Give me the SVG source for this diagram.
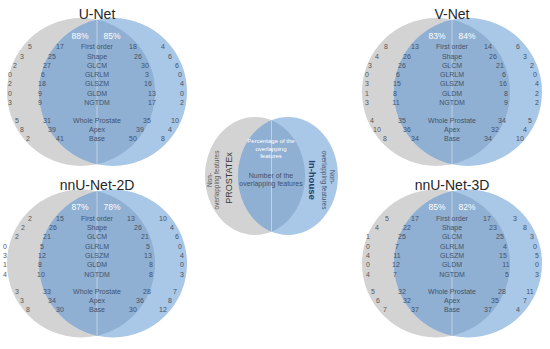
<svg xmlns="http://www.w3.org/2000/svg" xmlns:xlink="http://www.w3.org/1999/xlink" width="550" height="349" viewBox="0 0 550 349">
<style>
text{font-family:"Liberation Sans",Arial,sans-serif;}
.title{font-size:14px;fill:#262626;text-anchor:middle;}
.pct{font-size:8.5px;fill:#ffffff;text-anchor:middle;}
.f{font-size:7px;fill:#44546a;text-anchor:middle;}
.n{font-size:7px;fill:#44546a;text-anchor:middle;}
.nl{font-size:7px;fill:#595959;text-anchor:middle;}
.gray{fill:#d3d3d3;}
.blue{fill:#a9c7e6;}
.lens{fill:#8fafd3;}
.mid{stroke:#e6edf6;stroke-width:0.7;opacity:0.8;}
.lg{font-size:6.5px;fill:#595959;text-anchor:middle;}
.lb{font-size:6.5px;fill:#44546a;text-anchor:middle;}
</style>
<defs>
<g id="venn">
<circle class="gray" cx="81" cy="92" r="74"/>
<circle class="blue" cx="113" cy="92" r="74"/>
<path class="lens" d="M97,19.75 A74,74 0 0 1 97,164.25 A74,74 0 0 1 97,19.75 Z"/>
<line class="mid" x1="97" y1="20" x2="97" y2="164"/>
</g>
<g id="feats">
<text class="f" x="97" y="49.2">First order</text>
<text class="f" x="97" y="58.5">Shape</text>
<text class="f" x="97" y="67.8">GLCM</text>
<text class="f" x="97" y="77.1">GLRLM</text>
<text class="f" x="97" y="86.4">GLSZM</text>
<text class="f" x="97" y="95.7">GLDM</text>
<text class="f" x="97" y="105">NGTDM</text>
<text class="f" x="97" y="122.5">Whole Prostate</text>
<text class="f" x="97" y="131.5">Apex</text>
<text class="f" x="97" y="140.8">Base</text>
</g>
<clipPath id="lgclip"><ellipse cx="255" cy="176" rx="50" ry="59"/></clipPath>
</defs>

<g id="unet">
<use xlink:href="#venn"/>
<use xlink:href="#feats"/>
<text class="title" x="97" y="18.5">U-Net</text>
<text class="pct" x="80" y="38.5">88%</text>
<text class="pct" x="112" y="38.5">85%</text>
<text class="nl"><tspan x="30" y="49.2">5</tspan><tspan x="22" y="58.5">3</tspan><tspan x="15" y="67.8">2</tspan><tspan x="10" y="77.1">0</tspan><tspan x="10" y="86.4">2</tspan><tspan x="10" y="95.7">0</tspan><tspan x="10" y="105">3</tspan><tspan x="17" y="122.5">5</tspan><tspan x="22" y="131.5">8</tspan><tspan x="28" y="140.8">2</tspan></text>
<text class="n"><tspan x="60" y="49.2">17</tspan><tspan x="52" y="58.5">25</tspan><tspan x="47" y="67.8">27</tspan><tspan x="43" y="77.1">6</tspan><tspan x="42" y="86.4">18</tspan><tspan x="40" y="95.7">9</tspan><tspan x="40" y="105">9</tspan><tspan x="47" y="122.5">31</tspan><tspan x="52" y="131.5">39</tspan><tspan x="60" y="140.8">41</tspan></text>
<text class="n"><tspan x="133" y="49.2">18</tspan><tspan x="138" y="58.5">26</tspan><tspan x="145" y="67.8">30</tspan><tspan x="147" y="77.1">3</tspan><tspan x="148" y="86.4">16</tspan><tspan x="152" y="95.7">13</tspan><tspan x="152" y="105">17</tspan><tspan x="147" y="122.5">35</tspan><tspan x="140" y="131.5">39</tspan><tspan x="133" y="140.8">50</tspan></text>
<text class="n"><tspan x="163" y="49.2">4</tspan><tspan x="170" y="58.5">6</tspan><tspan x="177" y="67.8">6</tspan><tspan x="180" y="77.1">0</tspan><tspan x="182" y="86.4">4</tspan><tspan x="182" y="95.7">0</tspan><tspan x="182" y="105">2</tspan><tspan x="175" y="122.5">10</tspan><tspan x="170" y="131.5">4</tspan><tspan x="163" y="140.8">8</tspan></text>
</g>

<g id="vnet" transform="translate(355,0)">
<use xlink:href="#venn"/>
<use xlink:href="#feats"/>
<text class="title" x="97" y="18.5">V-Net</text>
<text class="pct" x="82" y="38.5">83%</text>
<text class="pct" x="112" y="38.5">84%</text>
<text class="nl"><tspan x="31" y="49.2">8</tspan><tspan x="22" y="58.5">4</tspan><tspan x="15" y="67.8">3</tspan><tspan x="12" y="77.1">0</tspan><tspan x="12" y="86.4">3</tspan><tspan x="12" y="95.7">1</tspan><tspan x="12" y="105">3</tspan><tspan x="17" y="122.5">4</tspan><tspan x="22" y="131.5">10</tspan><tspan x="30" y="140.8">8</tspan></text>
<text class="n"><tspan x="60" y="49.2">13</tspan><tspan x="52" y="58.5">26</tspan><tspan x="47" y="67.8">26</tspan><tspan x="43" y="77.1">6</tspan><tspan x="42" y="86.4">15</tspan><tspan x="40" y="95.7">8</tspan><tspan x="41" y="105">11</tspan><tspan x="47" y="122.5">35</tspan><tspan x="52" y="131.5">36</tspan><tspan x="60" y="140.8">34</tspan></text>
<text class="n"><tspan x="133" y="49.2">14</tspan><tspan x="138" y="58.5">26</tspan><tspan x="145" y="67.8">21</tspan><tspan x="149" y="77.1">6</tspan><tspan x="148" y="86.4">16</tspan><tspan x="151" y="95.7">8</tspan><tspan x="151" y="105">9</tspan><tspan x="147" y="122.5">34</tspan><tspan x="140" y="131.5">32</tspan><tspan x="133" y="140.8">34</tspan></text>
<text class="n"><tspan x="163" y="49.2">6</tspan><tspan x="170" y="58.5">3</tspan><tspan x="177" y="67.8">2</tspan><tspan x="180" y="77.1">0</tspan><tspan x="182" y="86.4">4</tspan><tspan x="182" y="95.7">2</tspan><tspan x="182" y="105">2</tspan><tspan x="175" y="122.5">5</tspan><tspan x="170" y="131.5">4</tspan><tspan x="165" y="140.8">10</tspan></text>
</g>

<g id="nnunet2d" transform="translate(0,171.5)">
<use xlink:href="#venn"/>
<use xlink:href="#feats"/>
<text class="title" x="97" y="18.5">nnU-Net-2D</text>
<text class="pct" x="80" y="38.5">87%</text>
<text class="pct" x="112" y="38.5">78%</text>
<text class="nl"><tspan x="30" y="49.2">2</tspan><tspan x="23" y="58.5">2</tspan><tspan x="17" y="67.8">2</tspan><tspan x="5" y="77.1">0</tspan><tspan x="5" y="86.4">3</tspan><tspan x="5" y="95.7">1</tspan><tspan x="5" y="105">4</tspan><tspan x="17" y="122.5">3</tspan><tspan x="22" y="131.5">3</tspan><tspan x="28" y="140.8">8</tspan></text>
<text class="n"><tspan x="60" y="49.2">15</tspan><tspan x="53" y="58.5">26</tspan><tspan x="47" y="67.8">21</tspan><tspan x="42" y="77.1">5</tspan><tspan x="42" y="86.4">12</tspan><tspan x="40" y="95.7">8</tspan><tspan x="41" y="105">10</tspan><tspan x="47" y="122.5">33</tspan><tspan x="52" y="131.5">34</tspan><tspan x="60" y="140.8">30</tspan></text>
<text class="n"><tspan x="131" y="49.2">13</tspan><tspan x="138" y="58.5">26</tspan><tspan x="145" y="67.8">21</tspan><tspan x="148" y="77.1">5</tspan><tspan x="148" y="86.4">13</tspan><tspan x="151" y="95.7">8</tspan><tspan x="151" y="105">8</tspan><tspan x="147" y="122.5">28</tspan><tspan x="140" y="131.5">36</tspan><tspan x="133" y="140.8">30</tspan></text>
<text class="n"><tspan x="163" y="49.2">10</tspan><tspan x="172" y="58.5">4</tspan><tspan x="177" y="67.8">6</tspan><tspan x="180" y="77.1">0</tspan><tspan x="182" y="86.4">4</tspan><tspan x="182" y="95.7">0</tspan><tspan x="182" y="105">3</tspan><tspan x="175" y="122.5">7</tspan><tspan x="170" y="131.5">8</tspan><tspan x="163" y="140.8">12</tspan></text>
</g>

<g id="nnunet3d" transform="translate(355,171.5)">
<use xlink:href="#venn"/>
<use xlink:href="#feats"/>
<text class="title" x="97" y="18.5">nnU-Net-3D</text>
<text class="pct" x="82" y="38.5">85%</text>
<text class="pct" x="112" y="38.5">82%</text>
<text class="nl"><tspan x="32" y="49.2">5</tspan><tspan x="22" y="58.5">4</tspan><tspan x="13" y="67.8">1</tspan><tspan x="13" y="77.1">0</tspan><tspan x="13" y="86.4">4</tspan><tspan x="13" y="95.7">0</tspan><tspan x="13" y="105">4</tspan><tspan x="18" y="122.5">5</tspan><tspan x="23" y="131.5">6</tspan><tspan x="30" y="140.8">7</tspan></text>
<text class="n"><tspan x="60" y="49.2">17</tspan><tspan x="52" y="58.5">22</tspan><tspan x="47" y="67.8">25</tspan><tspan x="42" y="77.1">7</tspan><tspan x="42" y="86.4">11</tspan><tspan x="41" y="95.7">12</tspan><tspan x="40" y="105">7</tspan><tspan x="47" y="122.5">32</tspan><tspan x="52" y="131.5">32</tspan><tspan x="60" y="140.8">37</tspan></text>
<text class="n"><tspan x="132" y="49.2">17</tspan><tspan x="138" y="58.5">23</tspan><tspan x="145" y="67.8">25</tspan><tspan x="150" y="77.1">4</tspan><tspan x="148" y="86.4">15</tspan><tspan x="151" y="95.7">11</tspan><tspan x="152" y="105">5</tspan><tspan x="147" y="122.5">28</tspan><tspan x="140" y="131.5">35</tspan><tspan x="133" y="140.8">37</tspan></text>
<text class="n"><tspan x="160" y="49.2">3</tspan><tspan x="170" y="58.5">8</tspan><tspan x="177" y="67.8">3</tspan><tspan x="180" y="77.1">0</tspan><tspan x="182" y="86.4">5</tspan><tspan x="182" y="95.7">0</tspan><tspan x="182" y="105">3</tspan><tspan x="175" y="122.5">11</tspan><tspan x="170" y="131.5">7</tspan><tspan x="163" y="140.8">4</tspan></text>
</g>

<g id="legend">
<ellipse class="gray" cx="255" cy="176" rx="50" ry="59"/>
<ellipse class="blue" cx="288" cy="176" rx="50" ry="59"/>
<ellipse class="lens" cx="288" cy="176" rx="50" ry="59" clip-path="url(#lgclip)"/>
<line class="mid" x1="271.5" y1="120.5" x2="271.5" y2="231.5"/>
<text class="pct" style="font-size:6px"><tspan x="271" y="143">Percentage of the</tspan><tspan x="271" y="150.5">overlapping</tspan><tspan x="271" y="158">features</tspan></text>
<text class="f"><tspan x="271" y="177.5">Number of the</tspan><tspan x="271" y="185.5">overlapping features</tspan></text>
<text class="lg" transform="translate(212,180) rotate(-90)">Non-</text>
<text class="lg" transform="translate(219,180) rotate(-90)">overlapping features</text>
<text transform="translate(232,178) rotate(-90)" style="font-size:9px;fill:#3a3a3a;text-anchor:middle">PROSTATEx</text>
<text transform="translate(309,180) rotate(90)" style="font-size:9.5px;font-weight:bold;fill:#1f3f66;text-anchor:middle">In-house</text>
<text class="lb" transform="translate(322,180) rotate(90)">overlapping features</text>
<text class="lb" transform="translate(330,177) rotate(90)">Non-</text>
</g>
<g id="connectors"/>
</svg>
